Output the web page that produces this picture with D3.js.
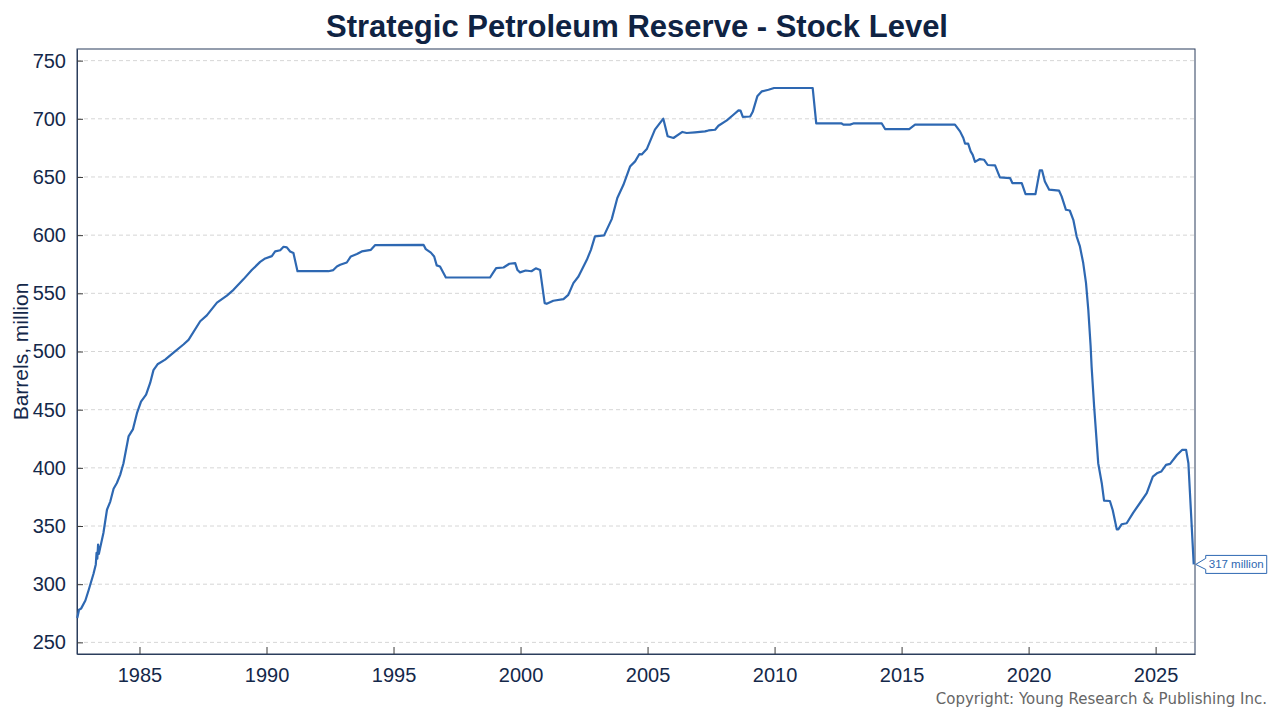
<!DOCTYPE html>
<html>
<head>
<meta charset="utf-8">
<script src="https://cdn.jsdelivr.net/npm/d3@7"></script>
<style>
  body { margin: 0; background: #fff; }
  svg { display: block; }
</style>
</head>
<body>
<div id="chart"></div>
<script>
// decimal year of each reading
const dates = [
  1982.55, 1982.62, 1982.70, 1982.87, 1983.00, 1983.19, 1983.28, 1983.31, 1983.34, 1983.37,
  1983.40, 1983.45, 1983.58, 1983.72, 1983.85, 1983.98, 1984.11, 1984.24, 1984.37, 1984.57,
  1984.74, 1984.90, 1985.06, 1985.26, 1985.42, 1985.55, 1985.71, 1986.01, 1986.34, 1986.73,
  1986.93, 1987.39, 1987.65, 1988.05, 1988.44, 1988.70, 1989.09, 1989.42, 1989.75, 1989.95,
  1990.21, 1990.34, 1990.54, 1990.67, 1990.80, 1990.93, 1991.06, 1991.22, 1992.44, 1992.63,
  1992.77, 1992.90, 1993.16, 1993.32, 1993.56, 1993.75, 1994.11, 1994.28, 1996.18, 1996.27,
  1996.47, 1996.60, 1996.70, 1996.83, 1997.06, 1998.80, 1998.91, 1999.04, 1999.33, 1999.56,
  1999.79, 1999.88, 1999.98, 2000.20, 2000.43, 2000.60, 2000.77, 2000.95, 2001.03, 2001.29,
  2001.69, 2001.88, 2002.08, 2002.28, 2002.61, 2002.77, 2002.93, 2003.29, 2003.59, 2003.81,
  2004.05, 2004.31, 2004.51, 2004.68, 2004.77, 2004.97, 2005.29, 2005.62, 2005.79, 2006.02,
  2006.37, 2006.54, 2006.87, 2007.26, 2007.40, 2007.66, 2007.79, 2008.12, 2008.38, 2008.58,
  2008.66, 2008.75, 2009.04, 2009.14, 2009.32, 2009.50, 2009.76, 2009.98, 2011.50, 2011.64,
  2012.64, 2012.71, 2012.97, 2013.10, 2014.22, 2014.35, 2015.30, 2015.53, 2017.10, 2017.30,
  2017.43, 2017.50, 2017.62, 2017.72, 2017.80, 2017.89, 2018.08, 2018.25, 2018.39, 2018.68,
  2018.87, 2019.27, 2019.36, 2019.73, 2019.88, 2020.27, 2020.44, 2020.53, 2020.64, 2020.81,
  2021.20, 2021.30, 2021.47, 2021.62, 2021.76, 2021.89, 2022.02, 2022.15, 2022.26, 2022.35,
  2022.44, 2022.48, 2022.58, 2022.74, 2022.88, 2022.97, 2023.20, 2023.31, 2023.47, 2023.53,
  2023.66, 2023.86, 2024.12, 2024.39, 2024.65, 2024.89, 2025.05, 2025.22, 2025.41, 2025.57,
  2025.84, 2026.04, 2026.20, 2026.29, 2026.50
];

// SPR stock, million barrels
const stock = [
  271, 278, 279, 286, 295, 309, 317, 327, 322, 334,
  326, 331, 344, 364, 371, 382, 387, 394, 404, 427,
  433, 447, 457, 463, 473, 484, 489, 493, 499, 506,
  510, 526, 531, 542, 548, 553, 562, 570, 577, 580,
  582, 586, 587, 590, 589.5, 586, 584.6, 569, 569, 570,
  573, 574.5, 576.5, 581.7, 583.8, 586, 587.4, 591.5, 591.7, 588,
  585, 581.7, 574, 573, 563.6, 563.6, 567.4, 571.7, 572.2, 575.4,
  576, 570, 568, 569.6, 569, 571.5, 570, 541.6, 541, 543.6,
  545, 548.7, 558.8, 564.5, 578.8, 587.4, 599, 599.8, 613.8, 632,
  643.3, 659, 663.4, 669.7, 669.4, 674, 690.7, 700.1, 685, 683.5,
  688.7, 687.8, 688.4, 689.2, 690, 690.6, 694, 698.6, 703.5, 707.3,
  707, 701.6, 702, 706, 719.3, 723.6, 725, 726.5, 726.5, 696,
  696, 695, 695, 696, 696, 691.2, 691.2, 695, 695, 689.2,
  683.5, 678.6, 678.6, 672, 669, 663, 665.4, 664.8, 660.3, 660,
  649.6, 649.1, 644.8, 644.8, 635.3, 635.3, 655.6, 655.6, 646.2, 639.1,
  638.2, 633.3, 621.8, 621.2, 613.2, 599, 590.3, 576, 558.8, 535.8,
  505, 487, 452.6, 404, 386.8, 371.8, 371.5, 363.8, 347.2, 347.2,
  351.5, 352.4, 361.5, 370, 378.2, 392.5, 395.3, 396.8, 402.5, 403.4,
  411, 415.4, 415.4, 404, 317
];

const yearTicks = [1985, 1990, 1995, 2000, 2005, 2010, 2015, 2020, 2025];
const valueTicks = [250, 300, 350, 400, 450, 500, 550, 600, 650, 700, 750];

const width = 1280;
const height = 720;
const margin = { top: 49, right: 85, bottom: 66, left: 77 };
const navy = "#14284a";
const lineBlue = "#2e68b2";

const svg = d3
  .select("#chart")
  .append("svg")
  .attr("width", width)
  .attr("height", height)
  .style("font-family", "'Liberation Sans', Arial, sans-serif");

const x = d3
  .scaleLinear()
  .domain([1982.54, 2026.55])
  .range([margin.left, width - margin.right]);

const y = d3
  .scaleLinear()
  .domain([240, 760])
  .range([height - margin.bottom, margin.top]);

// dashed gridlines
svg
  .append("g")
  .selectAll("line")
  .data(valueTicks)
  .join("line")
  .attr("x1", margin.left)
  .attr("x2", width - margin.right)
  .attr("y1", (d) => y(d))
  .attr("y2", (d) => y(d))
  .attr("stroke", "#d6d6d6")
  .attr("stroke-width", 1)
  .attr("stroke-dasharray", "4,3");

// frame
svg
  .append("rect")
  .attr("x", margin.left)
  .attr("y", margin.top)
  .attr("width", width - margin.left - margin.right)
  .attr("height", height - margin.top - margin.bottom)
  .attr("fill", "none")
  .attr("stroke", "#2b3d5c")
  .attr("stroke-width", 1);

const xAxis = svg
  .append("g")
  .attr("transform", `translate(0,${height - margin.bottom})`)
  .call(
    d3.axisBottom(x).tickValues(yearTicks).tickFormat(d3.format("d")).tickSizeInner(-7).tickSizeOuter(0).tickPadding(14)
  );

const yAxis = svg
  .append("g")
  .attr("transform", `translate(${margin.left},0)`)
  .call(d3.axisLeft(y).tickValues(valueTicks).tickSizeInner(-6).tickSizeOuter(0).tickPadding(11));

[xAxis, yAxis].forEach((g) => {
  g.select(".domain").attr("stroke", "#2b3d5c");
  g.selectAll(".tick line").attr("stroke", "#3a3a3a");
  g.selectAll(".tick text")
    .attr("fill", navy)
    .style("font-size", "20px")
    .style("font-family", "'Liberation Sans', Arial, sans-serif");
});

// series line
const line = d3
  .line()
  .x((d) => x(d[0]))
  .y((d) => y(d[1]));

svg
  .append("path")
  .datum(d3.zip(dates, stock))
  .attr("d", line)
  .attr("fill", "none")
  .attr("stroke", lineBlue)
  .attr("stroke-width", 2.2)
  .attr("stroke-linejoin", "round");

// callout for the latest value
const lastX = x(dates[dates.length - 1]);
const lastY = y(stock[stock.length - 1]);
const boxLeft = lastX + 12;
const boxW = 61;
const boxH = 18;
const callout = svg.append("g");
callout
  .append("path")
  .attr(
    "d",
    `M${lastX + 2},${lastY} L${boxLeft},${lastY - 6} L${boxLeft},${lastY - boxH / 2} ` +
      `L${boxLeft + boxW},${lastY - boxH / 2} L${boxLeft + boxW},${lastY + boxH / 2} ` +
      `L${boxLeft},${lastY + boxH / 2} L${boxLeft},${lastY + 5} Z`
  )
  .attr("fill", "#fff")
  .attr("stroke", lineBlue)
  .attr("stroke-width", 1);
callout
  .append("text")
  .attr("x", boxLeft + boxW / 2)
  .attr("y", lastY + 4)
  .attr("text-anchor", "middle")
  .attr("fill", lineBlue)
  .style("font-size", "11.5px")
  .text(`${stock[stock.length - 1]} million`);

// title
svg
  .append("text")
  .attr("x", 637)
  .attr("y", 37)
  .attr("text-anchor", "middle")
  .attr("fill", "#0f2343")
  .style("font-size", "31px")
  .style("font-weight", "bold")
  .text("Strategic Petroleum Reserve - Stock Level");

// y axis title
svg
  .append("text")
  .attr("transform", `translate(28,${(margin.top + height - margin.bottom) / 2}) rotate(-90)`)
  .attr("text-anchor", "middle")
  .attr("fill", navy)
  .style("font-size", "21px")
  .text("Barrels, million");

svg
  .append("text")
  .attr("x", 1267)
  .attr("y", 704)
  .attr("text-anchor", "end")
  .attr("fill", "#666")
  .style("font-family", "'DejaVu Sans', sans-serif")
  .style("font-size", "15px")
  .text("Copyright: Young Research & Publishing Inc.");
</script>
</body>
</html>
